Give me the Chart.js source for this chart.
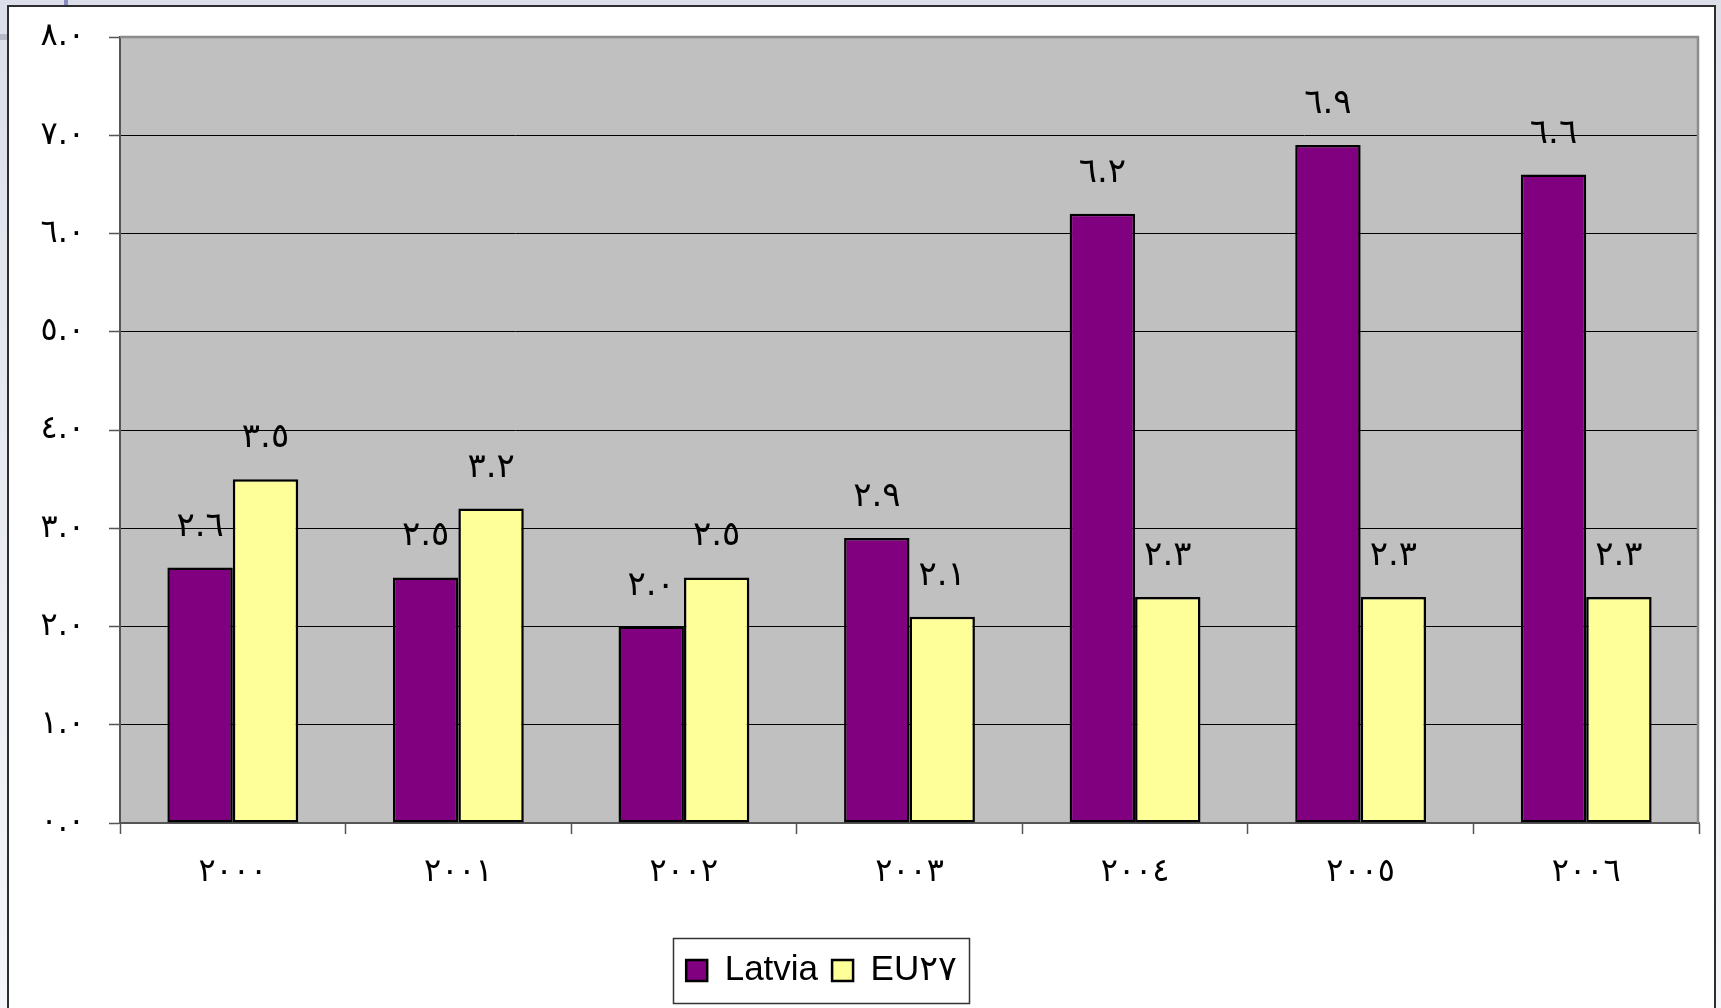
<!DOCTYPE html>
<html>
<head>
<meta charset="utf-8">
<script src="https://cdn.jsdelivr.net/npm/chart.js@4/dist/chart.umd.min.js"></script>
<style>
  html, body { margin: 0; padding: 0; background: #e6e8ef; }
  #wrap { width: 1721px; height: 1008px; position: relative; overflow: hidden; }
  canvas { display: block; }
</style>
</head>
<body>
<div id="wrap"><canvas id="chart" width="1721" height="1008"></canvas></div>
<script>
// Years on the category axis
const years = ['٢٠٠٠', '٢٠٠١', '٢٠٠٢', '٢٠٠٣', '٢٠٠٤', '٢٠٠٥', '٢٠٠٦'];
// Series values
const latvia = [2.6, 2.5, 2.0, 2.9, 6.2, 6.9, 6.6];
const eu27 = [3.5, 3.2, 2.5, 2.1, 2.3, 2.3, 2.3];
// Series names
const seriesNames = ['Latvia', 'EU٢٧'];
// Value-axis tick labels, 0 to 8 in steps of 1
const yTickLabels = ['٠.٠', '١.٠', '٢.٠', '٣.٠', '٤.٠', '٥.٠', '٦.٠', '٧.٠', '٨.٠'];

const arabicDigits = '٠١٢٣٤٥٦٧٨٩';
function toArabic(str) {
  return str.replace(/[0-9]/g, d => arabicDigits[+d]);
}

// Page backdrop, white frame, plot background and plot-area edges
const framePlugin = {
  id: 'frame',
  afterLayout(chart) {
    // legend sits a little left of the page centre
    if (chart.legend) {
      chart.legend.left -= 28;
      chart.legend.right -= 28;
    }
  },
  beforeDraw(chart) {
    const ctx = chart.ctx;
    const W = chart.width, H = chart.height;
    ctx.save();
    const g = ctx.createLinearGradient(0, 0, 0, H);
    g.addColorStop(0, '#dcdfe9');
    g.addColorStop(1, '#f5f6f9');
    ctx.fillStyle = g;
    ctx.fillRect(0, 0, W, H);
    ctx.fillStyle = '#b7bbc8';
    ctx.fillRect(0, 34, 7, 6);
    ctx.fillStyle = '#8a8ac4';
    ctx.fillRect(64, 0, 4, 5);
    ctx.fillStyle = '#ffffff';
    ctx.fillRect(7, 5, 1709, H);
    ctx.strokeStyle = '#2e2e2e';
    ctx.lineWidth = 2;
    ctx.beginPath();
    ctx.moveTo(8, H + 2);
    ctx.lineTo(8, 6);
    ctx.lineTo(1715, 6);
    ctx.lineTo(1715, H + 2);
    ctx.stroke();
    const a = chart.chartArea;
    ctx.fillStyle = '#c0c0c0';
    ctx.fillRect(a.left, a.top, a.right - a.left, a.bottom - a.top);
    ctx.restore();
  },
  beforeDatasetsDraw(chart) {
    const ctx = chart.ctx;
    const a = chart.chartArea;
    ctx.save();
    ctx.strokeStyle = '#8c8c8c';
    ctx.lineWidth = 2.5;
    ctx.beginPath();
    ctx.moveTo(a.left, a.top);
    ctx.lineTo(a.right - 1, a.top);
    ctx.lineTo(a.right - 1, a.bottom);
    ctx.stroke();
    ctx.restore();
  }
};

// Value labels above each bar
const valueLabelPlugin = {
  id: 'valueLabels',
  afterDatasetsDraw(chart) {
    const ctx = chart.ctx;
    ctx.save();
    ctx.fillStyle = '#000';
    ctx.font = '34px "DejaVu Sans"';
    ctx.textAlign = 'center';
    ctx.textBaseline = 'alphabetic';
    chart.data.datasets.forEach((ds, di) => {
      const meta = chart.getDatasetMeta(di);
      meta.data.forEach((bar, i) => {
        ctx.fillText(toArabic(ds.data[i].toFixed(1)), bar.x, bar.y - 32);
      });
    });
    ctx.restore();
  }
};

// Border around the legend
const legendBoxPlugin = {
  id: 'legendBox',
  afterDraw(chart) {
    const lg = chart.legend;
    if (!lg || !lg.legendHitBoxes || !lg.legendHitBoxes.length) return;
    const hb = lg.legendHitBoxes;
    const left = Math.min(...hb.map(h => h.left)) - 13;
    const right = Math.max(...hb.map(h => h.left + h.width)) + 12;
    const cy = hb[0].top + hb[0].height / 2;
    const ctx = chart.ctx;
    ctx.save();
    ctx.strokeStyle = '#333';
    ctx.lineWidth = 1.5;
    ctx.strokeRect(Math.round(left) + 0.5, Math.round(cy - 32.5) + 0.5, Math.round(right - left), 65);
    ctx.restore();
  }
};

new Chart(document.getElementById('chart'), {
  type: 'bar',
  data: {
    labels: years,
    datasets: [
      {
        label: seriesNames[0],
        data: latvia,
        backgroundColor: '#800080',
        borderColor: '#000000',
        borderWidth: 2.5,
        borderSkipped: false,
        barPercentage: 1.0,
        categoryPercentage: 0.58
      },
      {
        label: seriesNames[1],
        data: eu27,
        backgroundColor: '#ffff99',
        borderColor: '#000000',
        borderWidth: 2.5,
        borderSkipped: false,
        barPercentage: 1.0,
        categoryPercentage: 0.58
      }
    ]
  },
  options: {
    responsive: false,
    animation: false,
    devicePixelRatio: 1,
    layout: { padding: { left: 0, top: 37, right: 22, bottom: 10 } },
    plugins: {
      tooltip: { enabled: false },
      legend: {
        position: 'bottom',
        labels: {
          color: '#000',
          font: { family: '"Liberation Sans", "DejaVu Sans"', size: 35 },
          boxWidth: 21,
          boxHeight: 21,
          padding: 14
        }
      }
    },
    scales: {
      x: {
        grid: {
          offset: true,
          drawOnChartArea: false,
          drawTicks: true,
          tickLength: 11,
          tickColor: '#555',
          tickWidth: 1.5
        },
        border: { display: true, color: '#555', width: 2 },
        ticks: {
          color: '#000',
          font: { family: '"DejaVu Sans"', size: 32 },
          padding: 19,
          maxRotation: 0
        },
        afterFit(scale) { scale.height = 116; }
      },
      y: {
        min: 0,
        max: 8,
        grid: {
          color: '#000',
          lineWidth: 1,
          drawTicks: true,
          tickLength: 11,
          tickColor: '#555',
          tickWidth: 1.5
        },
        border: { display: true, color: '#555', width: 2 },
        ticks: {
          stepSize: 1,
          color: '#000',
          font: { family: '"DejaVu Sans"', size: 32 },
          padding: 24,
          callback: (value) => yTickLabels[Math.round(value)]
        },
        afterFit(scale) {
          scale.width = 120;
          scale.paddingTop = 0;
          scale.paddingBottom = 0;
        }
      }
    }
  },
  plugins: [framePlugin, valueLabelPlugin, legendBoxPlugin]
});
</script>
</body>
</html>
